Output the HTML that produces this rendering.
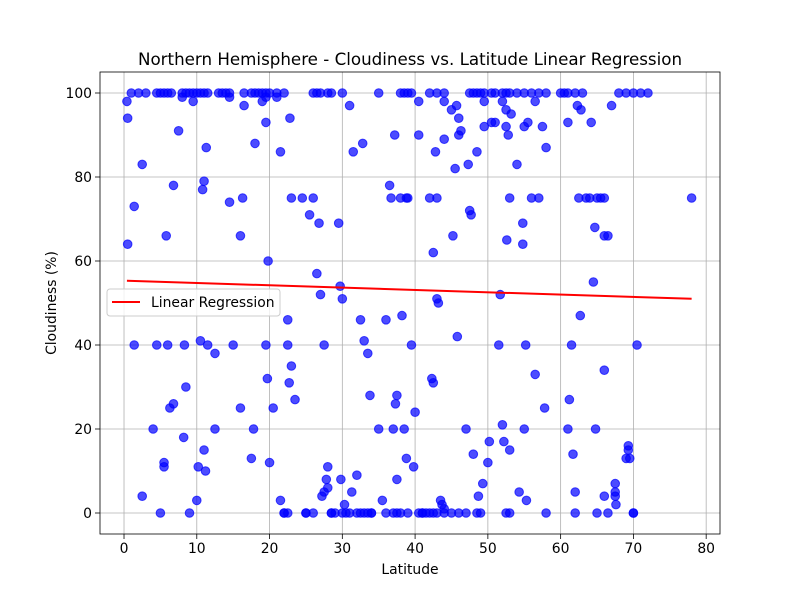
<!DOCTYPE html>
<html><head><meta charset="utf-8"><style>
body{margin:0;background:#fff}
svg text{font-family:"DejaVu Sans","Liberation Sans",sans-serif;fill:#000}
</style></head><body>
<svg id="chart" width="800" height="600" xmlns="http://www.w3.org/2000/svg">
<rect width="800" height="600" fill="#fff"/>
<g id="grid"></g><g id="pts"></g><g id="reg"></g><g id="axes"></g>
</svg>
<script>
const lats=[0.5,1.4,2.5,1.4,2.5,4,4.5,5,5.5,5.5,5.8,6,6.3,6.8,6.8,7.5,8.2,8.3,8.5,9,10,10.2,10.5,10.8,11,11,11.2,11.3,11.5,12.5,12.5,14.5,15,16,16,16.3,16.5,17.5,17.8,18,19.5,19.5,19.7,19.8,20,20.5,21.5,21.5,22,22.5,22.5,22.7,23,22.8,23,23.5,24.5,25,25.5,26,26.5,26.8,27,27.2,27.5,27.5,27.8,28,28,28.5,29.5,29.7,29.8,30,30.3,30.5,31,31.3,31.5,32,32.5,32.8,33,33.5,33.8,34,35,35.5,36,36.5,36.7,37,37.2,37.3,37.5,37.5,38,38.2,38.5,38.8,38.8,39,39.5,39.8,40,40.5,41,42,42.3,42.5,42.5,42.8,43,43,43.2,43.5,43.7,44,44,45,45.2,45.5,45.7,45.8,46,46,46.3,47,47.3,47.5,47.7,48,48.5,48.7,49.3,49.5,50,50.2,50.5,51,51.5,51.7,52,52.2,52.5,52.5,52.6,52.8,53,53,53.2,54,54.3,54.8,54.8,55,55,55.2,55.3,55.5,56,56.5,57,57.5,57.8,58,60.5,61,61,61.2,61.5,61.7,62,62.3,62.5,62.7,62.8,63.5,64,64.2,64.5,64.7,64.8,65,65.5,66,66.5,66,66,66,67,67.5,67.5,67.5,67.6,69,69.3,69.3,69.5,70,70.5,78,38,
0.4,0.5,1,2,3,4.5,5,5.5,6,6.5,8,8,8.5,9,9.5,9.5,10,10.5,11,11.5,13,13.5,14,14.5,14.5,16.5,17.5,18,18.5,19,19,19.5,19.5,20,21,21,22,26,26.5,27,28,28.5,30,35,38,38.5,39,39.5,40.5,42,43,44,44,47.5,48,48.5,49,49.5,49.5,50.5,51,52,52,52.5,53,54,55,56,56.5,57,58,60,61,62,63,68,69,70,71,72,
22,22.5,25,26,28.5,29,30,31,32,32.5,33,33.5,34,36,37,37.5,39,40.5,41,41.5,42,42.5,43,44,45,46,47,48.5,49,52.5,53,58,62,65,66.5,70];
const clouds=[64,73,83,40,4,20,40,0,11,12,66,40,25,26,78,91,18,40,30,0,3,11,41,77,79,15,10,87,40,38,20,74,40,66,25,75,97,13,20,88,93,40,32,60,12,25,86,3,0,46,40,31,35,94,75,27,75,0,71,75,57,69,52,4,5,40,8,11,6,0,69,54,8,51,2,0,97,5,86,9,46,88,41,38,28,0,20,3,46,78,75,20,90,26,28,8,75,47,20,13,75,75,40,11,24,90,0,75,32,31,62,86,75,51,50,3,2,89,1,96,66,82,97,42,94,90,91,20,83,72,71,14,86,4,7,92,12,17,93,93,40,52,21,17,96,92,65,90,75,15,95,83,5,64,69,92,20,40,3,93,75,33,75,92,25,87,100,93,20,27,40,14,5,97,75,47,96,75,75,93,55,68,20,75,75,66,66,34,4,75,97,7,5,4,2,13,16,15,13,0,40,75,0,
98,94,100,100,100,100,100,100,100,100,100,99,100,100,100,98,100,100,100,100,100,100,100,100,99,100,100,100,100,100,98,100,99,100,100,99,100,100,100,100,100,100,100,100,100,100,100,100,98,100,100,100,98,100,100,100,100,100,98,100,100,100,98,100,100,100,100,100,98,100,100,100,100,100,100,100,100,100,100,100,
0,0,0,0,0,0,0,0,0,0,0,0,0,0,0,0,0,0,0,0,0,0,0,0,0,0,0,0,0,0,0,0,0,0,0,0];
const xTicks=[0,10,20,30,40,50,60,70,80];
const yTicks=[0,20,40,60,80,100];
const regStart=[0.4,55.3], regEnd=[78,51];
const NS="http://www.w3.org/2000/svg";
const L=100,R=720,T=72,B=534,xmin=-3.3,xmax=81.9,ymin=-5,ymax=105;
const sx=v=>L+(v-xmin)/(xmax-xmin)*(R-L), sy=v=>B-(v-ymin)/(ymax-ymin)*(B-T);
function mk(tag,attrs,parent,txt){const e=document.createElementNS(NS,tag);for(const k in attrs)e.setAttribute(k,attrs[k]);if(txt!==undefined)e.textContent=txt;parent.appendChild(e);return e;}
const grid=document.getElementById('grid'),axes=document.getElementById('axes'),pts=document.getElementById('pts'),reg=document.getElementById('reg'),svg=document.getElementById('chart');
xTicks.forEach(t=>{const x=sx(t);
 const g=mk('line',{x1:x,x2:x,y1:T,y2:B,stroke:'#b0b0b0','stroke-width':0.8},grid);
 
 mk('line',{x1:x,x2:x,y1:B,y2:B+5,stroke:'#000','stroke-width':0.8},axes);
 const tx=mk('text',{x:x,y:B+19,'text-anchor':'middle','font-size':13.9},axes,t);
 });
yTicks.forEach(t=>{const y=sy(t);
 const g=mk('line',{x1:L,x2:R,y1:y,y2:y,stroke:'#b0b0b0','stroke-width':0.8},grid);
 
 mk('line',{x1:L-5,x2:L,y1:y,y2:y,stroke:'#000','stroke-width':0.8},axes);
 const tx=mk('text',{x:L-8,y:y+5,'text-anchor':'end','font-size':13.9},axes,t);
 });
for(let i=0;i<lats.length;i++){
 const c=mk('circle',{cx:sx(lats[i]),cy:sy(clouds[i]),r:4.3,fill:'rgba(0,0,255,0.7)',stroke:'rgba(0,0,255,0.7)','stroke-width':1},pts);
 }
const rl=mk('line',{x1:sx(regStart[0]),y1:sy(regStart[1]),x2:sx(regEnd[0]),y2:sy(regEnd[1]),stroke:'#ff0000','stroke-width':2},reg);

const fr=mk('rect',{x:L,y:T,width:R-L,height:B-T,fill:'none',stroke:'#000','stroke-width':0.8},axes);

const ti=mk('text',{x:410,y:65,'text-anchor':'middle','font-size':16.7},axes,'Northern Hemisphere - Cloudiness vs. Latitude Linear Regression');

const xl=mk('text',{x:410,y:574,'text-anchor':'middle','font-size':13.9},axes,'Latitude');

const yl=mk('text',{x:56,y:303,'text-anchor':'middle','font-size':13.9,transform:'rotate(-90 56 303)'},axes,'Cloudiness (%)');

const lg=mk('g',{},axes);

mk('rect',{x:107,y:289,width:173,height:27,rx:3,fill:'rgba(255,255,255,0.8)',stroke:'#ccc'},lg);
mk('line',{x1:112,x2:140,y1:302,y2:302,stroke:'#ff0000','stroke-width':2},lg);
const lt=mk('text',{x:151,y:307,'font-size':13.9},lg,'Linear Regression');

</script>
</body></html>
